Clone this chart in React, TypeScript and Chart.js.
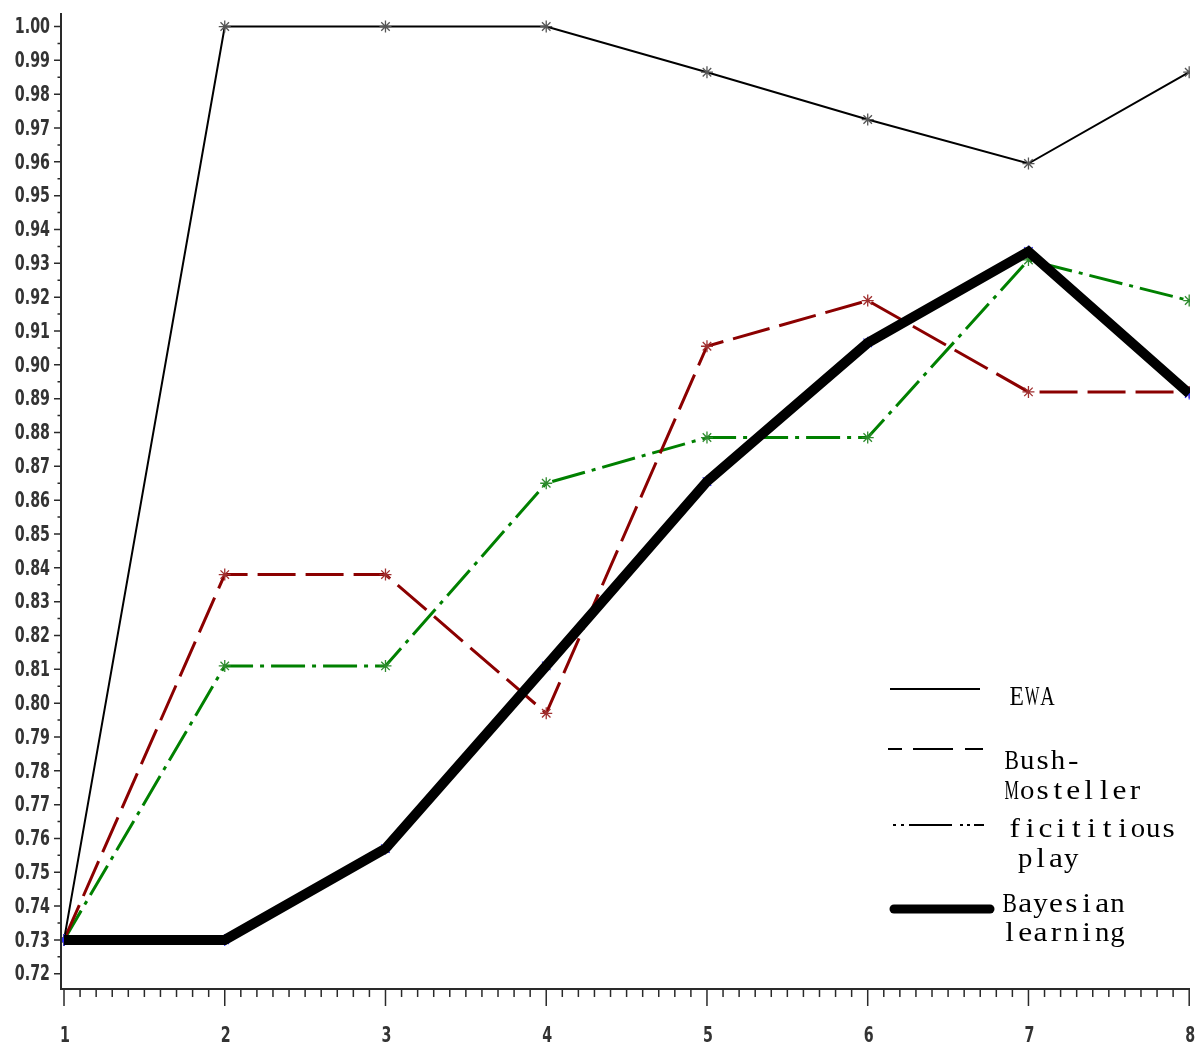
import React, { useEffect, useRef } from "react";
import { Chart, registerables } from "chart.js";

Chart.register(...registerables);

const xValues = [1, 2, 3, 4, 5, 6, 7, 8];
const xTickLabels = ["1", "2", "3", "4", "5", "6", "7", "8"];
const yTickValues = [
  0.72, 0.73, 0.74, 0.75, 0.76, 0.77, 0.78, 0.79, 0.8, 0.81, 0.82, 0.83, 0.84, 0.85, 0.86,
  0.87, 0.88, 0.89, 0.9, 0.91, 0.92, 0.93, 0.94, 0.95, 0.96, 0.97, 0.98, 0.99, 1.0, 1.01,
];
const yTickLabels = [
  "0.72", "0.73", "0.74", "0.75", "0.76", "0.77", "0.78", "0.79", "0.80", "0.81", "0.82", "0.83",
  "0.84", "0.85", "0.86", "0.87", "0.88", "0.89", "0.90", "0.91", "0.92", "0.93", "0.94", "0.95",
  "0.96", "0.97", "0.98", "0.99", "1.00", "1.01",
];
const ewa = [0.73, 1.0, 1.0, 1.0, 0.9865, 0.9725, 0.9595, 0.9865];
const bushMosteller = [0.73, 0.838, 0.838, 0.797, 0.9055, 0.919, 0.892, 0.892];
const fictitiousPlay = [0.73, 0.811, 0.811, 0.865, 0.8785, 0.8785, 0.931, 0.919];
const bayesian = [0.73, 0.73, 0.757, 0.811, 0.8655, 0.9065, 0.9335, 0.8915];
const legendLabels = [["EWA"], ["Bush-", "Mosteller"], ["ficititious", " play"], ["Bayesian", "learning"]];

const TICK_FONT = "bold 22px 'DejaVu Sans Condensed', 'DejaVu Sans', sans-serif";
const LEGEND_FONT = "28px 'Liberation Serif', 'DejaVu Serif', serif";
const AXIS_COLOR = "#2a2a2a";

const pts = (ys: number[]) => xValues.map((x, i) => ({ x, y: ys[i] }));

function squeezedText(ctx: any, text: string, x: number, y: number, sx: number, align: string) {
  ctx.save();
  const w = ctx.measureText(text).width * sx;
  let left = x;
  if (align === "right") left = x - w;
  else if (align === "center") left = x - w / 2;
  ctx.translate(left, y);
  ctx.scale(sx, 1);
  ctx.textAlign = "left";
  ctx.fillText(text, 0, 0);
  ctx.restore();
}

function monoText(ctx: any, text: string, x: number, y: number, pitch: number) {
  for (let i = 0; i < text.length; i++) {
    const ch = text[i];
    if (ch === " ") continue;
    const w = ctx.measureText(ch).width;
    const maxW = pitch - 1;
    let sx = 1.12;
    if (w * sx > maxW) sx = maxW / w;
    const cx = x + i * pitch + pitch / 2;
    ctx.save();
    ctx.translate(cx, y);
    ctx.scale(sx, 1);
    ctx.textAlign = "center";
    ctx.fillText(ch, 0, 0);
    ctx.restore();
  }
}

const axesPlugin = {
  id: "customAxes",
  afterDraw(chart: any) {
    const ctx = chart.ctx;
    const xs = chart.scales.x;
    const ys = chart.scales.y;
    const area = chart.chartArea;
    ctx.save();
    ctx.strokeStyle = AXIS_COLOR;
    ctx.lineWidth = 2;
    ctx.beginPath();
    ctx.moveTo(area.left, area.top);
    ctx.lineTo(area.left, area.bottom);
    ctx.lineTo(area.right, area.bottom);
    ctx.stroke();
    ctx.lineWidth = 1.5;
    ctx.beginPath();
    for (let k = 0; k < yTickValues.length; k++) {
      const py = ys.getPixelForValue(yTickValues[k]);
      if (py >= area.top - 1) {
        ctx.moveTo(area.left - 7, py);
        ctx.lineTo(area.left, py);
      }
      if (k < yTickValues.length - 1) {
        const pm = ys.getPixelForValue((yTickValues[k] + yTickValues[k + 1]) / 2);
        if (pm >= area.top) {
          ctx.moveTo(area.left - 3.5, pm);
          ctx.lineTo(area.left, pm);
        }
      }
    }
    for (let k = 0; k < xValues.length; k++) {
      const px = xs.getPixelForValue(xValues[k]);
      ctx.moveTo(px, area.bottom);
      ctx.lineTo(px, area.bottom + 17);
      if (k < xValues.length - 1) {
        for (let j = 1; j < 10; j++) {
          const v = xValues[k] + (j * (xValues[k + 1] - xValues[k])) / 10;
          const pm = xs.getPixelForValue(v);
          ctx.moveTo(pm, area.bottom);
          ctx.lineTo(pm, area.bottom + 8);
        }
      }
    }
    ctx.stroke();
    ctx.fillStyle = "#333";
    ctx.font = TICK_FONT;
    ctx.textBaseline = "middle";
    for (let k = 0; k < yTickValues.length; k++) {
      const py = ys.getPixelForValue(yTickValues[k]);
      squeezedText(ctx, yTickLabels[k], 50, py + 1, 0.72, "right");
    }
    for (let k = 0; k < xValues.length; k++) {
      const px = xs.getPixelForValue(xValues[k]);
      squeezedText(ctx, xTickLabels[k], px + 1, 1036, 0.72, "center");
    }
    ctx.restore();
  },
};

const legendPlugin = {
  id: "customLegend",
  afterDraw(chart: any) {
    const ctx = chart.ctx;
    ctx.save();
    ctx.strokeStyle = "#000";
    ctx.lineWidth = 2;
    ctx.setLineDash([]);
    ctx.beginPath();
    ctx.moveTo(890, 689);
    ctx.lineTo(980, 689);
    ctx.stroke();
    ctx.setLineDash([14, 11, 40, 12, 18, 100]);
    ctx.beginPath();
    ctx.moveTo(888, 749);
    ctx.lineTo(983, 749);
    ctx.stroke();
    ctx.setLineDash([3, 5, 3, 5, 43, 8, 3, 4, 3, 4, 10, 100]);
    ctx.beginPath();
    ctx.moveTo(893, 825);
    ctx.lineTo(985, 825);
    ctx.stroke();
    ctx.setLineDash([]);
    ctx.lineWidth = 9;
    ctx.lineCap = "round";
    ctx.beginPath();
    ctx.moveTo(894, 909);
    ctx.lineTo(990, 909);
    ctx.stroke();

    ctx.fillStyle = "#000";
    ctx.font = LEGEND_FONT;
    ctx.textBaseline = "middle";
    const pitch = 15.4;
    monoText(ctx, legendLabels[0][0], 1009, 698, pitch);
    monoText(ctx, legendLabels[1][0], 1004, 762, pitch);
    monoText(ctx, legendLabels[1][1], 1004, 792, pitch);
    monoText(ctx, legendLabels[2][0], 1007, 830, pitch);
    monoText(ctx, legendLabels[2][1], 1002, 860, pitch);
    monoText(ctx, legendLabels[3][0], 1002, 905, pitch);
    monoText(ctx, legendLabels[3][1], 1002, 934, pitch);
    ctx.restore();
  },
};

export default function App() {
  const ref = useRef<HTMLCanvasElement | null>(null);

  useEffect(() => {
    if (!ref.current) return;
    const chart = new Chart(ref.current, {
      type: "line",
      data: {
        datasets: [
          {
            label: "Bayesian learning",
            data: pts(bayesian),
            borderColor: "#000",
            borderWidth: 10,
            pointRadius: 0,
            borderJoinStyle: "miter",
            order: 0,
          },
          {
            label: "Bayesian markers",
            data: pts(bayesian),
            showLine: false,
            pointStyle: "star",
            pointRadius: 6,
            pointBorderColor: "#2a2aff",
            pointBorderWidth: 1.2,
            order: 1,
          },
          {
            label: "EWA",
            data: pts(ewa),
            borderColor: "#000",
            borderWidth: 2,
            pointStyle: "star",
            pointRadius: 6,
            pointBorderColor: "#555",
            pointBorderWidth: 1.3,
            order: 2,
          },
          {
            label: "Bush-Mosteller",
            data: pts(bushMosteller),
            borderColor: "#8b0000",
            borderWidth: 3,
            borderDash: [38, 10],
            pointStyle: "star",
            pointRadius: 6,
            pointBorderColor: "#a03030",
            pointBorderWidth: 1.3,
            order: 3,
          },
          {
            label: "ficititious play",
            data: pts(fictitiousPlay),
            borderColor: "#008000",
            borderWidth: 3,
            borderDash: [34, 7, 4, 7],
            pointStyle: "star",
            pointRadius: 6,
            pointBorderColor: "#2e8b2e",
            pointBorderWidth: 1.3,
            order: 4,
          },
        ],
      },
      options: {
        animation: false,
        responsive: false,
        maintainAspectRatio: false,
        layout: { padding: { top: 13, right: 11, left: 0, bottom: 0 } },
        plugins: { legend: { display: false }, tooltip: { enabled: false } },
        elements: { line: { tension: 0, fill: false } },
        scales: {
          x: {
            type: "linear",
            min: 0.9813,
            max: 8.005,
            afterBuildTicks: (s: any) => {
              s.ticks = xValues.map((v) => ({ value: v }));
            },
            afterFit: (s: any) => {
              s.height = 63;
            },
            ticks: { display: false },
            grid: { display: false },
            border: { display: false },
          },
          y: {
            type: "linear",
            min: 0.7155,
            max: 1.004,
            afterBuildTicks: (s: any) => {
              s.ticks = yTickValues.map((v) => ({ value: v }));
            },
            afterFit: (s: any) => {
              s.width = 61;
            },
            ticks: { display: false },
            grid: { display: false },
            border: { display: false },
          },
        },
      } as any,
      plugins: [axesPlugin, legendPlugin],
    });
    return () => chart.destroy();
  }, []);

  return (
    <div style={{ position: "absolute", left: 0, top: 0, width: 1201, height: 1052, background: "#fff" }}>
      <canvas ref={ref} width={1201} height={1052} style={{ width: 1201, height: 1052, display: "block" }} />
    </div>
  );
}
